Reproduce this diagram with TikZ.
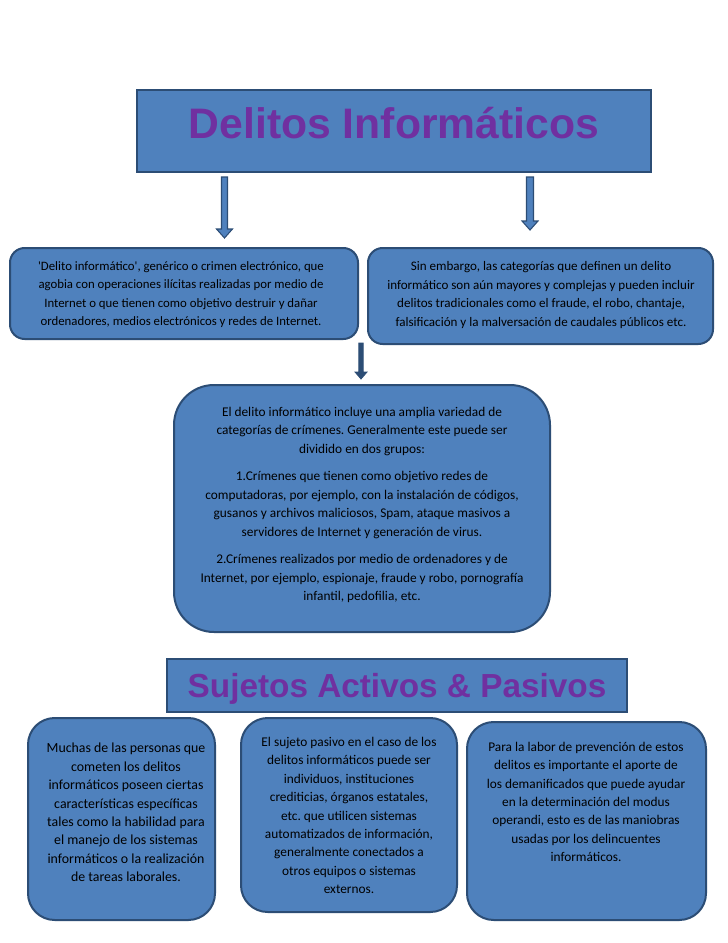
\documentclass[tikz,border=0pt]{standalone}
\usepackage{fontspec}
\setmainfont{Carlito}
\newfontfamily\titlefont{Liberation Sans}
\usetikzlibrary{calc}
\definecolor{boxblue}{HTML}{4F81BD}
\definecolor{boxline}{HTML}{2C4D75}
\definecolor{titlepurple}{HTML}{7030A0}
\frenchspacing
\begin{document}
\begin{tikzpicture}[x=0.75pt,y=-0.75pt,
  sqbox/.style={draw=boxline, line width=1.5pt, fill=boxblue, rectangle, inner sep=0pt},
  rbox/.style={sqbox, rounded corners=#1},
  body/.style={align=center, font=\frenchspacing\fontsize{#1}{13.8}\selectfont, inner sep=0pt, text=black},
  ttl/.style={font=\titlefont\bfseries\fontsize{#1}{#1}\selectfont, text=titlepurple, inner sep=0pt, anchor=base},
  arrout/.style={draw=boxline, line width=0.8pt, fill=boxblue, line join=miter},
  arrsolid/.style={draw=boxline, line width=0.6pt, fill=boxline, line join=miter}]
\useasboundingbox (0,0) rectangle (728,943);
\fill[white] (0,0) rectangle (728,943);

% title
\node[sqbox, minimum width=385.5pt, minimum height=61.5pt] (t1) at (394,131) {};
\node[ttl=32] (t1txt) at (394,138) {Delitos Informáticos};

% top boxes
\node[rbox=11pt, minimum width=261pt, minimum height=68.25pt] (l1) at (184,293.5) {};
\node[body=9.6] (l1txt) at (181,294.5) {\textquotesingle Delito informático\textquotesingle, genérico o crimen electrónico, que\\
agobia con operaciones ilícitas realizadas por medio de\\
Internet o que tienen como objetivo destruir y dañar\\
ordenadores, medios electrónicos y redes de Internet.};

\node[rbox=11pt, minimum width=258.75pt, minimum height=72pt] (r1) at (540.5,296) {};
\node[body=9.8] (r1txt) at (541,295) {Sin embargo, las categorías que definen un delito\\
informático son aún mayores y complejas y pueden incluir\\
delitos tradicionales como el fraude, el robo, chantaje,\\
falsificación y la malversación de caudales públicos etc.};

% middle box
\node[rbox=30pt, minimum width=282pt, minimum height=185.25pt] (m) at (362,508.5) {};
\node[body=10] (mtxt) at (362,505) {El delito informático incluye una amplia variedad de\\
categorías de crímenes. Generalmente este puede ser\\
dividido en dos grupos:\\[7pt]
1.Crímenes que tienen como objetivo redes de\\
computadoras, por ejemplo, con la instalación de códigos,\\
gusanos y archivos maliciosos, Spam, ataque masivos a\\
servidores de Internet y generación de virus.\\[7pt]
2.Crímenes realizados por medio de ordenadores y de\\
Internet, por ejemplo, espionaje, fraude y robo, pornografía\\
infantil, pedofilia, etc.};

% second title
\node[sqbox, minimum width=345pt, minimum height=39.75pt] (t2) at (397,685.5) {};
\node[ttl=25] (t2txt) at (397,697) {Sujetos Activos \& Pasivos};

% bottom boxes
\node[rbox=20pt, minimum width=140.25pt, minimum height=151.5pt] (b1) at (121.5,819) {};
\node[body=10.4] (b1txt) at (126,812.5) {Muchas de las personas que\\
cometen los delitos\\
informáticos poseen ciertas\\
características específicas\\
tales como la habilidad para\\
el manejo de los sistemas\\
informáticos o la realización\\
de tareas laborales.};

\node[rbox=20pt, minimum width=162pt, minimum height=145.5pt] (b2) at (349,815) {};
\node[body=10] (b2txt) at (349,815.5) {El sujeto pasivo en el caso de los\\
delitos informáticos puede ser\\
individuos, instituciones\\
crediticias, órganos estatales,\\
etc. que utilicen sistemas\\
automatizados de información,\\
generalmente conectados a\\
otros equipos o sistemas\\
externos.};

\node[rbox=20pt, minimum width=179.25pt, minimum height=148.5pt] (b3) at (586.5,821) {};
\node[body=10] (b3txt) at (586,802) {Para la labor de prevención de estos\\
delitos es importante el aporte de\\
los demanificados que puede ayudar\\
en la determinación del modus\\
operandi, esto es de las maniobras\\
usadas por los delincuentes\\
informáticos.};

% arrows
\coordinate (a1s) at (224.5,177);
\coordinate (a1e) at (224.5,238);
\coordinate (a2s) at (530,177);
\coordinate (a2e) at (530,230);
\coordinate (a3s) at (361,343);
\coordinate (a3e) at (361,379);

\draw[arrout] ($(a1s)+(-3,0)$) -- ($(a1s)+(3,0)$) -- ($(a1e)+(3,-9)$) -- ($(a1e)+(8,-9)$) -- (a1e)
  -- ($(a1e)+(-8,-9)$) -- ($(a1e)+(-3,-9)$) -- cycle;
\draw[arrout] ($(a2s)+(-3.5,0)$) -- ($(a2s)+(3.5,0)$) -- ($(a2e)+(3.5,-9)$) -- ($(a2e)+(8,-9)$) -- (a2e)
  -- ($(a2e)+(-8,-9)$) -- ($(a2e)+(-3.5,-9)$) -- cycle;
\draw[arrsolid] ($(a3s)+(-2.2,0)$) -- ($(a3s)+(2.2,0)$) -- ($(a3e)+(2.2,-7)$) -- ($(a3e)+(6,-7)$) -- (a3e)
  -- ($(a3e)+(-6,-7)$) -- ($(a3e)+(-2.2,-7)$) -- cycle;
\end{tikzpicture}
\end{document}
